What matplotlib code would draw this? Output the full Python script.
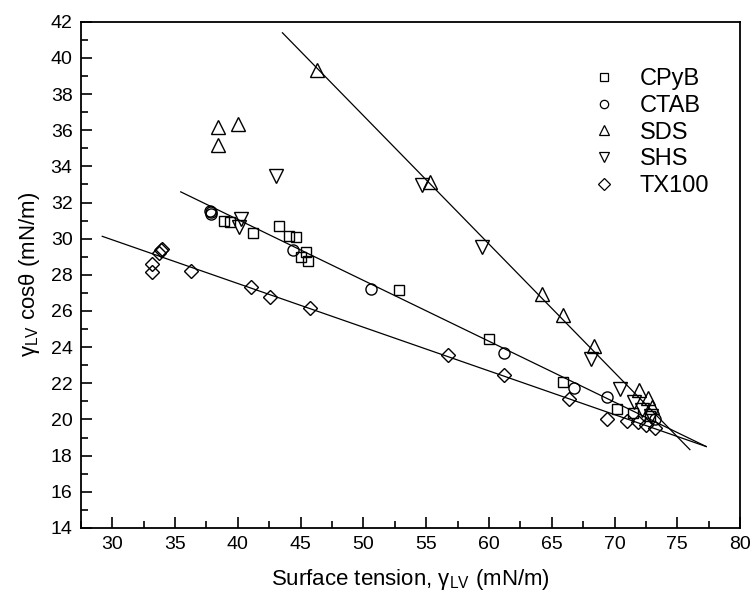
import numpy as np
from matplotlib import pyplot as plt
from matplotlib.ticker import MultipleLocator

plt.rcParams['font.family'] = ['Liberation Sans', 'DejaVu Sans']
plt.rcParams['mathtext.fontset'] = 'custom'
plt.rcParams['mathtext.rm'] = 'Liberation Sans'
plt.rcParams['mathtext.it'] = 'Liberation Sans:italic'

cpyb_x = [38.9, 39.4, 41.2, 43.3, 44.1, 44.6, 45.0, 45.4, 45.6, 52.8, 60.0, 65.9, 70.2, 71.5, 72.8]
cpyb_y = [31.0, 30.9, 30.3, 30.7, 30.15, 30.1, 29.0, 29.25, 28.75, 27.15, 24.45, 22.05, 20.55, 20.35, 20.2]

ctab_x = [37.8, 37.85, 37.9, 44.4, 50.6, 61.2, 66.8, 69.4, 73.2]
ctab_y = [31.55, 31.45, 31.35, 29.4, 27.2, 23.7, 21.75, 21.25, 20.05]

sds_x = [38.45, 38.45, 40.0, 46.3, 55.3, 64.25, 65.9, 68.4, 71.95, 72.7, 73.0]
sds_y = [36.2, 35.2, 36.35, 39.35, 33.15, 26.95, 25.75, 24.05, 21.65, 21.2, 20.7]

shs_x = [43.0, 40.25, 40.1, 54.65, 59.45, 68.1, 70.45, 71.55, 72.2, 72.9]
shs_y = [33.45, 31.1, 30.65, 32.95, 29.55, 23.35, 21.7, 20.95, 20.5, 20.2]

tx100_x = [33.2, 33.2, 33.7, 33.85, 33.95, 36.3, 41.05, 42.6, 45.75, 56.7, 61.2, 66.4, 69.4, 71.0, 71.9, 72.5, 73.2]
tx100_y = [28.15, 28.6, 29.2, 29.35, 29.45, 28.2, 27.35, 26.8, 26.15, 23.55, 22.45, 21.15, 20.0, 19.9, 19.85, 19.7, 19.55]

# fitted lines (end points)
sds_fit_x = [43.55, 76.0]
sds_fit_y = [41.39, 18.33]
cat_fit_x = [35.45, 77.3]
cat_fit_y = [32.59, 18.5]
tx_fit_x = [29.2, 77.3]
tx_fit_y = [30.13, 18.5]

fig = plt.figure(figsize=(7.56, 6.04), dpi=100)
ax = fig.add_axes([0.107, 0.126, 0.872, 0.838])

for fx, fy in [(sds_fit_x, sds_fit_y), (cat_fit_x, cat_fit_y), (tx_fit_x, tx_fit_y)]:
    ax.plot(fx, fy, color='black', lw=0.9)

series = [
    (cpyb_x, cpyb_y, 's', 7.5, 'CPyB'),
    (ctab_x, ctab_y, 'o', 8, 'CTAB'),
    (sds_x, sds_y, '^', 9.5, 'SDS'),
    (shs_x, shs_y, 'v', 9.5, 'SHS'),
    (tx100_x, tx100_y, 'D', 7.5, 'TX100'),
]
handles = []
for xs, ys, m, ms, lab in series:
    ax.plot(xs, ys, ls='none', marker=m, ms=ms, mfc='none', mec='black', mew=1.0)
    h, = ax.plot([], [], ls='none', marker=m, ms=ms * 0.75, mfc='none', mec='black', mew=0.9, label=lab)
    handles.append(h)

ax.set_xlim(27.5, 80)
ax.set_ylim(14, 42)
ax.xaxis.set_major_locator(MultipleLocator(5))
ax.xaxis.set_minor_locator(MultipleLocator(2.5))
ax.yaxis.set_major_locator(MultipleLocator(2))
ax.yaxis.set_minor_locator(MultipleLocator(1))
ax.tick_params(which='both', direction='in', top=False, right=False, labelsize=14, width=1.2)
ax.tick_params(which='major', length=8, pad=6)
ax.tick_params(which='minor', length=5)
for s in ax.spines.values():
    s.set_linewidth(1.3)

ax.set_xlabel(r'Surface tension, $\mathregular{\gamma_{LV}}$ (mN/m)', fontsize=16, labelpad=10)
ax.set_ylabel(r'$\mathregular{\gamma_{LV}}$ cosθ (mN/m)', fontsize=16, labelpad=6)

ax.legend(handles=handles, loc='upper right', bbox_to_anchor=(0.985, 0.95), frameon=False,
          fontsize=17, labelspacing=0.2, handletextpad=0.9, handlelength=1.2)

fig.savefig('out.png', dpi=100)
